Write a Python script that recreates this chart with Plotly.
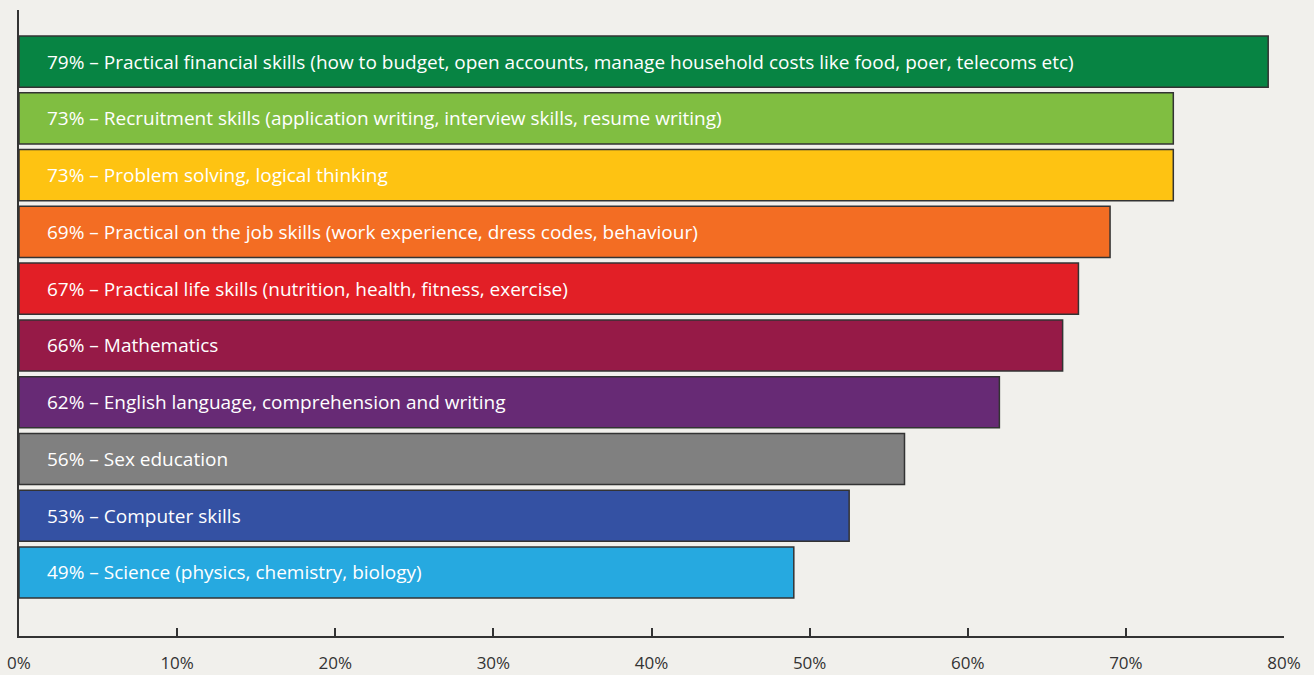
import plotly.graph_objects as go

labels = [
    "Practical financial skills (how to budget, open accounts, manage household costs like food, poer, telecoms etc)",
    "Recruitment skills (application writing, interview skills, resume writing)",
    "Problem solving, logical thinking",
    "Practical on the job skills (work experience, dress codes, behaviour)",
    "Practical life skills (nutrition, health, fitness, exercise)",
    "Mathematics",
    "English language, comprehension and writing",
    "Sex education",
    "Computer skills",
    "Science (physics, chemistry, biology)",
]
label_pcts = [79, 73, 73, 69, 67, 66, 62, 56, 53, 49]
values = [79, 73, 73, 69, 67, 66, 62, 56, 52.5, 49]
colors = ["#078443", "#80be41", "#fec312", "#f36d23", "#e21f26",
          "#961a47", "#672a75", "#808080", "#3451a3", "#26a9e0"]
tick_vals = [0, 10, 20, 30, 40, 50, 60, 70, 80]
tick_text = [f"{v}%" for v in tick_vals]

positions = list(range(len(labels)))

BG = "#f1f0ec"

fig = go.Figure()
fig.add_trace(go.Bar(
    x=values, y=positions, orientation="h",
    marker=dict(color=colors, line=dict(color="#333333", width=1.5)),
    width=0.9, hoverinfo="skip",
))

for p, pct, lab in zip(positions, label_pcts, labels):
    fig.add_annotation(
        x=0, y=p, xref="x", yref="y", xanchor="left", yanchor="middle",
        xshift=26, text=f"{pct}% \u2013 {lab}", showarrow=False,
        font=dict(family="Open Sans", size=19, color="white"),
    )

fig.update_layout(
    width=1314, height=675,
    margin=dict(l=19, r=30, t=10, b=39),
    paper_bgcolor=BG, plot_bgcolor=BG,
    showlegend=False,
    xaxis=dict(range=[0, 80], tickvals=tick_vals, ticktext=tick_text,
               showgrid=False, zeroline=False, showline=True,
               linecolor="#333333", linewidth=2, automargin=False,
               ticks="inside", ticklen=8, tickwidth=2, tickcolor="#333333",
               ticklabelstandoff=11,
               tickfont=dict(family="Open Sans", size=17, color="#333333")),
    yaxis=dict(range=[10.12, -0.91], showticklabels=False, showgrid=False,
               zeroline=False, showline=True, linecolor="#333333", linewidth=2,
               ticks="", automargin=False),
)

fig.write_html(
    "out.html",
    config={"displayModeBar": False},
    post_script=("document.body.style.margin='0';"
                 "document.body.style.overflow='hidden';"
                 f"document.body.style.background='{BG}';"),
)
